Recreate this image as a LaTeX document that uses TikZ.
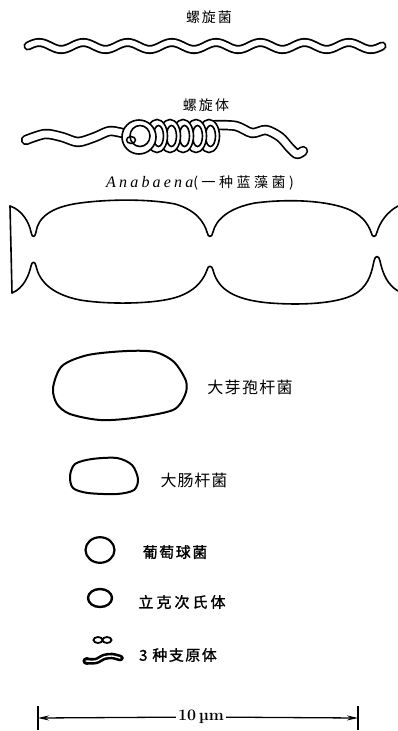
\documentclass[tikz,border=0pt]{standalone}
\usepackage{fontspec}
\usetikzlibrary{arrows.meta}
\newfontfamily\cjk{Noto Sans CJK SC}
\newfontfamily\cjkbold[FakeBold=1.2]{Noto Sans CJK SC}
\newfontfamily\genus[LetterSpace=20]{Liberation Serif}
\newcommand{\zh}[3]{{\fontsize{#1pt}{#1pt}\cjk\addfontfeature{LetterSpace=#2}#3}}
\newcommand{\zhb}[3]{{\fontsize{#1pt}{#1pt}\cjkbold\addfontfeature{LetterSpace=#2}#3}}
\tikzset{
  cellwall/.style={line width=1.6pt, line join=round, line cap=round},
  cellband/.style={double, double distance=#1, line width=1.7pt, line cap=round, line join=round},
  cellband/.default=4pt,
  coilring/.style={line width=1.6pt, fill=white},
  lbl/.style={inner sep=0pt},
  scalebar/.style={line width=1.3pt, -{Stealth[length=11pt,width=5pt]}},
}
\begin{document}
\begin{tikzpicture}[x=1pt,y=-1pt]
\useasboundingbox (0,0) rectangle (398,731);
\node[lbl] (spirillum) at (209,17) {\zh{14}{14}{螺旋菌}};
\draw[cellband=5.5pt, line width=1.8pt] plot[domain=28:382, samples=160, smooth] (\x,{46-3.5*sin((\x-28)/44.25*360)});
\node[lbl] (spirochete) at (206,105) {\zh{14}{16}{螺旋体}};
\draw[cellband=7pt] plot[smooth] coordinates {(26,140) (45,134) (62,137) (78,142) (95,137) (110,131) (126,134)};
\draw[cellband=7pt] plot[smooth] coordinates {(215,125) (236,126) (252,133) (266,130) (280,137) (290,148) (297,154) (303,151)};
\foreach \cx in {209,196,183,170,157} {
  \draw[coilring] (\cx,136) ellipse (10.5 and 16.5);
  \draw[line width=1.6pt] (\cx+1.5,136) ellipse (5 and 10.5);
}
\draw[coilring] (139,137) ellipse (17 and 17);
\draw[line width=1.6pt] (140,136) ellipse (10 and 10.5);
\draw[line width=1.5pt] (131,140) ellipse (4.5 and 3.5);
\node[lbl] (anabaena) at (200,183) {{\fontsize{16pt}{16pt}\genus\itshape Anabaena}\zh{14}{25}{(一种蓝藻菌)}};
\draw[cellwall] (10,206) .. controls (22,210) and (29,222) .. (31,232)
  .. controls (32,238) and (35,238) .. (36,232)
  .. controls (38,218) and (50,207) .. (80,203)
  .. controls (110,199) and (150,199) .. (175,204)
  .. controls (196,210) and (204,222) .. (207,232)
  .. controls (208,238) and (212,238) .. (213,232)
  .. controls (216,220) and (228,208) .. (255,203)
  .. controls (285,199) and (322,200) .. (345,208)
  .. controls (362,214) and (368,224) .. (371,232)
  .. controls (372,238) and (376,238) .. (377,232)
  .. controls (380,222) and (387,212) .. (398,206);
\draw[cellwall] (12,293) .. controls (24,288) and (29,275) .. (31,266)
  .. controls (32,261) and (35,261) .. (36,266)
  .. controls (39,280) and (50,294) .. (80,300)
  .. controls (110,305) and (160,304) .. (180,296)
  .. controls (198,289) and (204,278) .. (207,270)
  .. controls (208,265) and (212,265) .. (213,270)
  .. controls (218,290) and (235,300) .. (270,303)
  .. controls (310,306) and (345,302) .. (358,292)
  .. controls (370,283) and (372,270) .. (374,261)
  .. controls (375,255) and (379,255) .. (380,261)
  .. controls (383,275) and (388,285) .. (398,291);
\draw[cellwall] (10,206) -- (12,293);
\draw[cellwall, line width=2pt] plot[smooth cycle] coordinates {(53,388) (62,366) (88,355) (127,351) (155,352) (174,362) (186,381) (185,395) (173,410) (133,418) (100,420) (70,414) (57,404)};
\node[lbl] (megaterium) at (250,387) {\zh{16}{8}{大芽孢杆菌}};
\draw[cellwall, line width=2pt] plot[smooth cycle] coordinates {(70,476) (75,464) (92,459) (117,458) (132,465) (138,479) (134,490) (117,494) (88,493) (73,488)};
\node[lbl] (coli) at (194,480) {\zh{16}{6}{大肠杆菌}};
\draw[cellwall, line width=2.2pt] (100,550) ellipse (14.5 and 12.8);
\node[lbl] (staph) at (175,552) {\zhb{15}{10}{葡萄球菌}};
\draw[cellwall, line width=2.4pt] (100,598) ellipse (12 and 9);
\node[lbl] (rickettsia) at (182,602) {\zhb{15}{20}{立克次氏体}};
\draw[line width=1.8pt] (98,640) ellipse (4.5 and 3) (107,640) ellipse (4.5 and 3);
\fill (87,661) ellipse (4.5 and 4);
\fill (120,658) ellipse (3.8 and 3.2);
\draw[cellband=1.4pt, line width=2.6pt] plot[smooth] coordinates {(86,661) (96,661) (104,657) (112,656) (120,658)};
\node[lbl] (mycoplasma) at (178,655) {\zhb{15}{10}{3 种支原体}};
\coordinate (barL) at (38,718);
\coordinate (barR) at (358,718);
\node[inner sep=2pt] (bar) at (201,717) {\fontsize{16pt}{16pt}\selectfont\bfseries 10\,µm};
\draw[scalebar] (bar) -- (barL);
\draw[scalebar] (bar) -- (barR);
\draw[line width=1.6pt] (barL) ++(0,-12) -- ++(0,24);
\draw[line width=1.6pt] (barR) ++(0,-12) -- ++(0,24);
\end{tikzpicture}
\end{document}
